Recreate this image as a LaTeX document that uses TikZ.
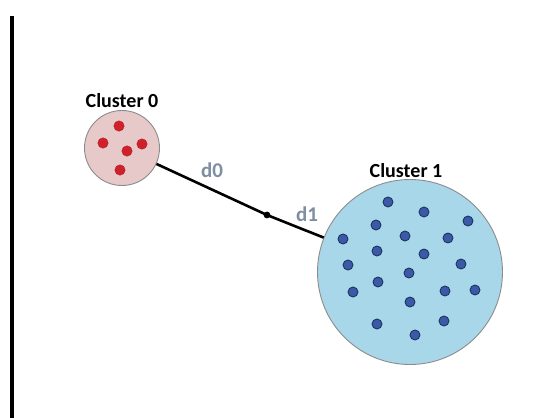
\documentclass[tikz,border=0pt]{standalone}
\usepackage{fontspec}
\setmainfont{Carlito}
\begin{document}
\begin{tikzpicture}[x=1pt,y=-1pt,
  cluster/.style={circle,draw=black!45,line width=0.9pt,inner sep=0pt},
  reddot/.style={circle,line width=0.3pt,inner sep=0pt,minimum size=10.5pt},
  bluedot/.style={circle,line width=0.9pt,inner sep=0pt,minimum size=10pt},
  title/.style={font=\bfseries\fontsize{20}{23}\selectfont,text=black},
  dlabel/.style={font=\bfseries\fontsize{21}{24}\selectfont,text=dlab},
  ]
\definecolor{pinkfill}{HTML}{E8C9C9}
\definecolor{bluefill}{HTML}{A9D7EA}
\definecolor{dlab}{HTML}{7F8EA4}
\definecolor{rdot}{HTML}{D0212B}
\definecolor{bdot}{HTML}{3A5AA8}
\definecolor{bdotb}{HTML}{1F3561}
\tikzset{reddot/.append style={fill=rdot,draw=rdot!80!black},
         bluedot/.append style={fill=bdot,draw=bdotb}}
\useasboundingbox (0,0) rectangle (555,418);
\fill[white] (0,0) rectangle (555,418);
% axis line
\coordinate (vt) at (12,16);
\coordinate (vb) at (12,418);
\draw[line width=4.5pt] (vt) -- (vb);
% clusters
\node[cluster,fill=pinkfill,minimum size=75pt] (c0) at (122,148) {};
\node[cluster,fill=bluefill,minimum size=185pt] (c1) at (410,272) {};
\node[title] (t0) at (122,101) {Cluster 0};
\node[title] (t1) at (406,171) {Cluster 1};
% connector
\coordinate (m) at (267,215);
\draw[line width=2.6pt] (c0) -- (m) -- (c1);
\fill (m) circle (3.4pt);
\node[dlabel] (d0) at (212,170) {d0};
\node[dlabel] (d1) at (307,214) {d1};
% red dots
\foreach \i/\p in {r1/{(119,126)},r2/{(103,143)},r3/{(127,151)},r4/{(142,144)},r5/{(120,170)}}
  \node[reddot] (\i) at \p {};
% blue dots
\foreach \i/\p in {b1/{(388,202)},b2/{(424,212)},b3/{(468,221)},b4/{(376,225)},b5/{(343,239)},
  b6/{(405,236)},b7/{(448,238)},b8/{(377,251)},b9/{(424,254)},b10/{(348,265)},
  b11/{(461,264)},b12/{(409,273)},b13/{(378,282)},b14/{(353,292)},b15/{(445,291)},
  b16/{(475,290)},b17/{(410,302)},b18/{(377,324)},b19/{(444,321)},b20/{(415,335)}}
  \node[bluedot] (\i) at \p {};
\end{tikzpicture}
\end{document}
